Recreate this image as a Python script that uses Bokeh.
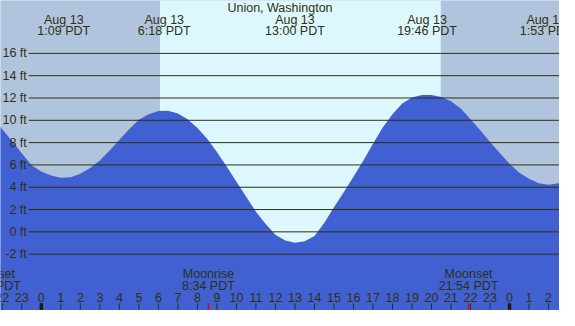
from bokeh.plotting import figure
from bokeh.models import Range1d
from bokeh.embed import file_html
from bokeh.resources import INLINE
from bokeh.core.properties import value

# ---------------- data ----------------
station = "Union, Washington"

# predicted tide height (ft), half-hourly, hours from Aug 13 00:00 PDT
hours = [-2.5, -2.0, -1.5, -1.0, -0.5, 0.0, 0.5, 1.0, 1.5, 2.0,
         2.5, 3.0, 3.5, 4.0, 4.5, 5.0, 5.5, 6.0, 6.5, 7.0,
         7.5, 8.0, 8.5, 9.0, 9.5, 10.0, 10.5, 11.0, 11.5, 12.0,
         12.5, 13.0, 13.5, 14.0, 14.5, 15.0, 15.5, 16.0, 16.5, 17.0,
         17.5, 18.0, 18.5, 19.0, 19.5, 20.0, 20.5, 21.0, 21.5, 22.0,
         22.5, 23.0, 23.5, 24.0, 24.5, 25.0, 25.5, 26.0, 26.5, 27.0]
heights_ft = [10.2, 9.2, 8.15, 7.05, 5.98, 5.4, 5.05, 4.85, 4.9, 5.2,
              5.72, 6.4, 7.3, 8.25, 9.2, 10.05, 10.55, 10.83, 10.85, 10.6,
              10.1, 9.3, 8.35, 7.15, 5.85, 4.5, 3.15, 1.8, 0.7, -0.25,
              -0.77, -0.97, -0.84, -0.38, 0.8, 2.2, 3.55, 4.93, 6.37, 7.9,
              9.35, 10.55, 11.5, 12.05, 12.27, 12.27, 12.08, 11.7, 11.05, 10.1,
              9.1, 8.05, 7.07, 6.1, 5.3, 4.75, 4.35, 4.23, 4.35, 4.6]

# high / low tide events
event_hours = [1.15, 6.30, 13.00, 19.77, 25.88]
event_dates = ["Aug 13", "Aug 13", "Aug 13", "Aug 13", "Aug 14"]
event_times = ["1:09 PDT", "6:18 PDT", "13:00 PDT", "19:46 PDT", "1:53 PDT"]

# daylight
sunrise_h = 6.08
sunset_h = 20.48

# moon events
moon_hours = [-2.58, 8.567, 21.9]
moon_names = ["Moonset", "Moonrise", "Moonset"]
moon_times = ["21:25 PDT", "8:34 PDT", "21:54 PDT"]

# height levels
level_ft = [-2, 0, 2, 4, 6, 8, 10, 12, 14, 16]
level_labels = ["-2 ft", "0 ft", "2 ft", "4 ft", "6 ft", "8 ft", "10 ft", "12 ft", "14 ft", "16 ft"]

# hour axis
hour_ticks = list(range(-2, 27))
hour_labels = ["22", "23", "0", "1", "2", "3", "4", "5", "6", "7", "8", "9", "10", "11",
               "12", "13", "14", "15", "16", "17", "18", "19", "20", "21", "22", "23",
               "0", "1", "2"]
midnights = [0, 24]

# ---------------- style / layout ----------------
NIGHT = "#b0c4de"
DAY = "#ddf7fe"
WATER = "#4161d3"
INK = "#30300e"
FONT = value("Liberation Sans")
FS = "12.5px"

X_LO, X_HI = -2.093, 26.56
Y_LO, Y_HI = -7.05, 20.74


def row(ypx):
    """vertical position given in reference-pixel rows -> ft"""
    return (243.3 - ypx) / 11.73


def col(xpx):
    return (xpx - 42.0) / 20.07


p = figure(width=559, height=310, output_backend="svg", toolbar_location=None,
           x_range=Range1d(X_LO, X_HI), y_range=Range1d(Y_LO, Y_HI),
           x_axis_type=None, y_axis_type=None, min_border=0)
p.grid.visible = False
p.outline_line_color = None
p.background_fill_color = NIGHT
p.border_fill_color = NIGHT

# night / day background
p.quad(left=[X_LO, sunrise_h, sunset_h], right=[sunrise_h, sunset_h, X_HI],
       bottom=Y_LO, top=Y_HI, fill_color=[NIGHT, DAY, NIGHT], line_color=None)

# water
p.varea(x=hours, y1=Y_LO, y2=heights_ft, fill_color=WATER)

# grid lines and labels
p.segment(x0=col(29), x1=X_HI, y0=level_ft, y1=level_ft, line_color=INK, line_width=1)
p.text(x=col(27), y=level_ft, text=level_labels, text_align="right", text_baseline="middle",
       text_font=FONT, text_font_size=FS, text_color=INK)

# title
p.text(x=[(X_LO + X_HI) / 2], y=[row(8)], text=[station], text_align="center",
       text_baseline="middle", text_font=FONT, text_font_size=FS, text_color=INK)

# tide event labels
p.text(x=event_hours, y=row(20), text=event_dates, text_align="center", text_baseline="middle",
       text_font=FONT, text_font_size=FS, text_color=INK)
p.text(x=event_hours, y=row(32), text=event_times, text_align="center", text_baseline="middle",
       text_font=FONT, text_font_size=FS, text_color=INK)

# moon labels
p.text(x=moon_hours, y=row(288), text=moon_names, text_align="center", text_baseline="middle",
       text_font=FONT, text_font_size=FS, text_color=INK)
p.text(x=moon_hours, y=row(300), text=moon_times, text_align="center", text_baseline="middle",
       text_font=FONT, text_font_size=FS, text_color=INK)

# hour labels and ticks
p.text(x=hour_ticks, y=row(312), text=hour_labels, text_align="center", text_baseline="middle",
       text_font=FONT, text_font_size=FS, text_color=INK)
p.segment(x0=hour_ticks, x1=hour_ticks, y0=row(318.5), y1=Y_LO, line_color=INK, line_width=1)
p.segment(x0=midnights, x1=midnights, y0=row(318.5), y1=Y_LO, line_color="#1e1e08", line_width=3.5)
p.segment(x0=moon_hours, x1=moon_hours, y0=row(318.5), y1=Y_LO, line_color="#e00000", line_width=1.5)

open("out.html", "w").write(file_html(p, INLINE))
